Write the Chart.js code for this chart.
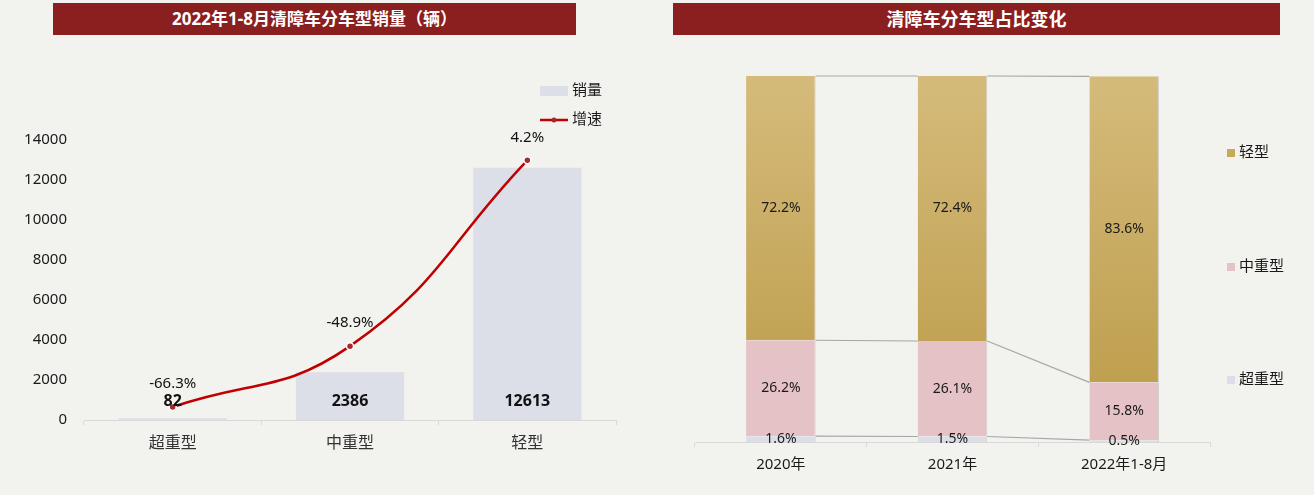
<!DOCTYPE html>
<html>
<head>
<meta charset="utf-8">
<script src="https://cdn.jsdelivr.net/npm/chart.js@4.4.1/dist/chart.umd.min.js"></script>
<style>
  html, body { margin: 0; padding: 0; background: #f2f2ee; width: 1314px; height: 495px; overflow: hidden;
    font-family: "Noto Sans", "Noto Sans CJK SC", sans-serif; }
  .title { position: absolute; top: 3px; height: 32px; line-height: 32px; background: #8b1e1e; color: #fff;
    font-weight: bold; text-align: center; z-index: 2; font-family: "Noto Sans", "Noto Sans CJK SC", sans-serif; }
  #t1 { left: 53px; width: 523px; font-size: 17px; }
  #t2 { left: 673px; width: 607px; font-size: 18px; }
  .wrap { position: absolute; top: 0; height: 495px; }
  #w1 { left: 0; width: 657px; }
  #w2 { left: 660px; width: 654px; }
</style>
</head>
<body>
<div class="title" id="t1">2022年1-8月清障车分车型销量（辆）</div>
<div class="title" id="t2">清障车分车型占比变化</div>
<div class="wrap" id="w1"><canvas id="c1" width="657" height="495"></canvas></div>
<div class="wrap" id="w2"><canvas id="c2" width="654" height="495"></canvas></div>
<script>
// ---- data ----
const categories = ['超重型', '中重型', '轻型'];
const salesVolume = [82, 2386, 12613];
const growthRate = [-66.3, -48.9, 4.2];

const periods = ['2020年', '2021年', '2022年1-8月'];
const shareSuperHeavy = [1.6, 1.5, 0.5];
const shareMidHeavy = [26.2, 26.1, 15.8];
const shareLight = [72.2, 72.4, 83.6];

const FONT = '"Noto Sans", "Noto Sans CJK SC", sans-serif';
Chart.defaults.font.family = FONT;
Chart.defaults.color = '#262626';

const BAR_GREY = '#dcdee8';
const LINE_RED = '#c00000';

// value labels for the sales / growth chart
const salesLabels = {
  id: 'salesLabels',
  afterDatasetsDraw(chart) {
    const c = chart.ctx;
    c.save();
    c.textAlign = 'center';
    c.textBaseline = 'middle';
    c.fillStyle = '#111';
    chart.data.datasets.forEach((ds, di) => {
      const meta = chart.getDatasetMeta(di);
      meta.data.forEach((el, i) => {
        if (ds.type === 'bar') {
          const base = chart.scales.y.getPixelForValue(0);
          c.font = 'bold 16px ' + FONT;
          c.fillText(String(ds.data[i]), el.x, base - 19);
        } else {
          c.font = '15px ' + FONT;
          c.fillText(ds.data[i].toFixed(1) + '%', el.x, el.y - 23);
        }
      });
    });
    c.restore();
  }
};

// legend in the upper right corner of the sales chart
const salesLegend = {
  id: 'salesLegend',
  afterDraw(chart) {
    const c = chart.ctx;
    const x0 = chart.chartArea.right - 76;
    c.save();
    c.fillStyle = BAR_GREY;
    c.fillRect(x0, 86, 28, 10);
    c.strokeStyle = LINE_RED;
    c.lineWidth = 2.5;
    c.beginPath();
    c.moveTo(x0, 120); c.lineTo(x0 + 28, 120);
    c.stroke();
    c.fillStyle = '#a8282d';
    c.beginPath();
    c.arc(x0 + 14, 120, 2.5, 0, Math.PI * 2);
    c.fill();
    c.fillStyle = '#1a1a1a';
    c.font = '15px ' + FONT;
    c.textBaseline = 'middle';
    c.textAlign = 'left';
    chart.data.datasets.slice().reverse().forEach((ds, k) => {
      c.fillText(ds.label, x0 + 32, k === 0 ? 91 : 120);
    });
    c.restore();
  }
};

new Chart(document.getElementById('c1'), {
  data: {
    labels: categories,
    datasets: [
      {
        type: 'line', label: '增速', data: growthRate, yAxisID: 'yRate', order: 0,
        borderColor: LINE_RED, borderWidth: 2.5, tension: 0.45,
        pointRadius: 3.5, pointBackgroundColor: '#a8282d', pointBorderColor: '#fff', pointBorderWidth: 1.5
      },
      {
        type: 'bar', label: '销量', data: salesVolume, yAxisID: 'y', order: 1,
        backgroundColor: BAR_GREY, barPercentage: 0.61, categoryPercentage: 1
      }
    ]
  },
  options: {
    responsive: false, animation: false, devicePixelRatio: 1,
    layout: { padding: { top: 140, right: 41, left: 0, bottom: 0 } },
    plugins: { legend: { display: false }, tooltip: { enabled: false } },
    scales: {
      x: {
        grid: { offset: true, drawOnChartArea: false, tickLength: 5, color: '#d9d9d9' },
        border: { color: '#d9d9d9' },
        ticks: { font: { size: 16 }, color: '#333', padding: 9 },
        afterFit(s) { s.height = 75; }
      },
      y: {
        min: 0, max: 14000,
        ticks: { stepSize: 2000, font: { size: 15 }, color: '#1a1a1a', padding: 17,
          callback: (v) => String(v) },
        grid: { display: false, drawTicks: false },
        border: { display: false },
        afterFit(s) { s.width = 84; }
      },
      yRate: { display: false, min: -70, max: 10 }
    }
  },
  plugins: [salesLabels, salesLegend]
});

// ---- share chart ----
const shareLabels = {
  id: 'shareLabels',
  afterDatasetsDraw(chart) {
    const c = chart.ctx;
    c.save();
    c.textAlign = 'center';
    c.textBaseline = 'middle';
    c.fillStyle = '#1a1a1a';
    c.font = '14px ' + FONT;
    chart.data.datasets.forEach((ds, di) => {
      chart.getDatasetMeta(di).data.forEach((el, i) => {
        const p = el.getProps(['x', 'y', 'base'], true);
        c.fillText(ds.data[i].toFixed(1) + '%', p.x, (p.y + p.base) / 2);
      });
    });
    c.restore();
  }
};

// series lines joining matching segment boundaries of neighbouring bars
const seriesLines = {
  id: 'seriesLines',
  afterDatasetsDraw(chart) {
    const c = chart.ctx;
    c.save();
    c.strokeStyle = '#a6a6a6';
    c.lineWidth = 1.2;
    chart.data.datasets.forEach((ds, di) => {
      const els = chart.getDatasetMeta(di).data;
      for (let i = 0; i < els.length - 1; i++) {
        const a = els[i].getProps(['x', 'y', 'width'], true);
        const b = els[i + 1].getProps(['x', 'y', 'width'], true);
        c.beginPath();
        c.moveTo(a.x + a.width / 2, a.y);
        c.lineTo(b.x - b.width / 2, b.y);
        c.stroke();
      }
    });
    c.restore();
  }
};

// vertical legend on the right, light type at top
const shareLegend = {
  id: 'shareLegend',
  afterDraw(chart) {
    const c = chart.ctx;
    const x0 = chart.chartArea.right + 17;
    const rows = [153, 267, 380];
    const swatch = ['#c9a858', '#e5c2c5', '#dcdde9'];
    c.save();
    c.font = '15px ' + FONT;
    c.textBaseline = 'middle';
    c.textAlign = 'left';
    chart.data.datasets.slice().reverse().forEach((ds, k) => {
      c.fillStyle = swatch[k];
      c.fillRect(x0, rows[k] - 4, 8, 8);
      c.fillStyle = '#1a1a1a';
      c.fillText(ds.label, x0 + 12, rows[k]);
    });
    c.restore();
  }
};

function goldFill(ctx) {
  const area = ctx.chart.chartArea;
  if (!area) return '#c9a858';
  const g = ctx.chart.ctx.createLinearGradient(0, area.top, 0, area.top + (area.bottom - area.top) * 0.85);
  g.addColorStop(0, '#d5bb7b');
  g.addColorStop(1, '#bf9f4f');
  return g;
}

new Chart(document.getElementById('c2'), {
  type: 'bar',
  data: {
    labels: periods,
    datasets: [
      { label: '超重型', data: shareSuperHeavy, backgroundColor: '#dcdde9' },
      { label: '中重型', data: shareMidHeavy, backgroundColor: '#e5c2c5' },
      { label: '轻型', data: shareLight, backgroundColor: goldFill }
    ]
  },
  options: {
    responsive: false, animation: false, devicePixelRatio: 1,
    datasets: { bar: { barPercentage: 0.405, categoryPercentage: 1,
      borderColor: 'rgba(128,128,128,0.35)', borderWidth: { left: 0, right: 1, top: 0, bottom: 0 } } },
    layout: { padding: { top: 76, right: 104, left: 35, bottom: 0 } },
    plugins: { legend: { display: false }, tooltip: { enabled: false } },
    scales: {
      x: {
        stacked: true,
        grid: { offset: true, drawOnChartArea: false, tickLength: 5, color: '#d9d9d9' },
        border: { color: '#d9d9d9' },
        ticks: { font: { size: 15 }, color: '#1a1a1a', padding: 9 },
        afterFit(s) { s.height = 53; }
      },
      y: { stacked: true, display: false, min: 0, max: 100 }
    }
  },
  plugins: [seriesLines, shareLabels, shareLegend]
});
</script>
</body>
</html>
